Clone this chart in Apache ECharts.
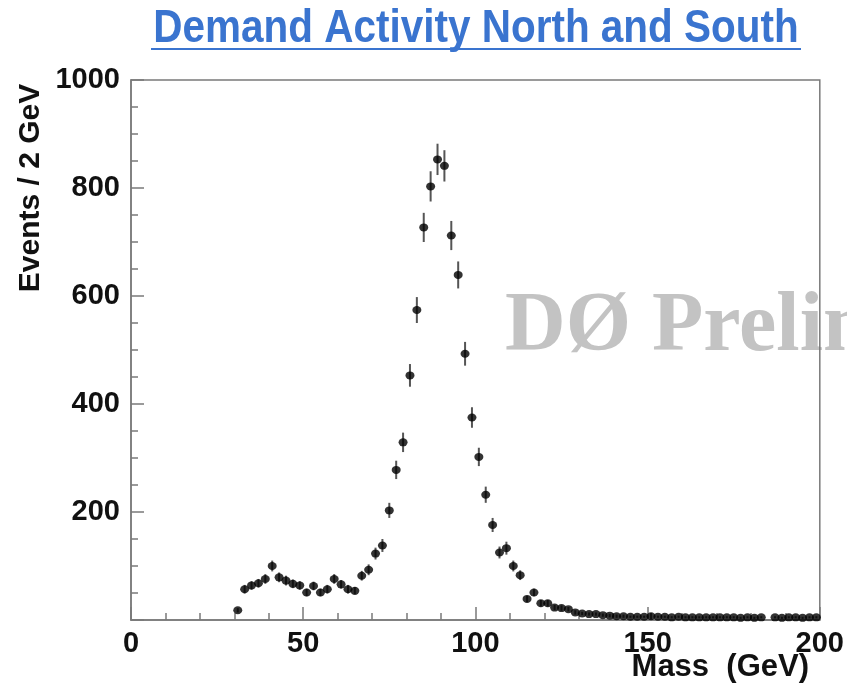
<!DOCTYPE html>
<html>
<head>
<meta charset="utf-8">
<title>Demand Activity North and South</title>
<script src="https://cdn.jsdelivr.net/npm/echarts@6/dist/echarts.min.js"></script>
<style>
  html, body { margin: 0; padding: 0; background: #ffffff; }
  #chart { width: 847px; height: 689px; }
</style>
</head>
<body>
<div id="chart"></div>
<script>
// Bin centres (GeV), 2 GeV wide bins
var massBins = [
  31, 33, 35, 37, 39, 41, 43, 45, 47, 49,
  51, 53, 55, 57, 59, 61, 63, 65, 67, 69,
  71, 73, 75, 77, 79, 81, 83, 85, 87, 89,
  91, 93, 95, 97, 99, 101, 103, 105, 107, 109,
  111, 113, 115, 117, 119, 121, 123, 125, 127, 129,
  131, 133, 135, 137, 139, 141, 143, 145, 147, 149,
  151, 153, 155, 157, 159, 161, 163, 165, 167, 169,
  171, 173, 175, 177, 179, 181, 183, 185, 187, 189,
  191, 193, 195, 197, 199
];

// Events per bin (null = empty bin, not drawn)
var events = [
  18, 57, 64, 68, 76, 100, 79, 73, 67, 64,
  51, 63, 51, 57, 76, 66, 57, 54, 82, 93,
  123, 138, 203, 278, 329, 453, 574, 727, 803, 853,
  841, 712, 639, 493, 375, 302, 232, 176, 125, 133,
  100, 83, 39, 51, 31, 31, 23, 22, 20, 14,
  12, 11, 11, 9, 8, 7, 7, 6, 6, 6,
  7, 6, 6, 5, 6, 5, 5, 5, 5, 5,
  5, 5, 5, 4, 5, 4, 5, null, 5, 4,
  5, 5, 4, 5, 5
];

// Statistical uncertainty on each bin
var errors = [
  4, 8, 8, 8, 9, 10, 9, 9, 8, 8,
  7, 8, 7, 8, 9, 8, 8, 7, 9, 10,
  11, 12, 14, 17, 18, 21, 24, 27, 28, 29,
  29, 27, 25, 22, 19, 17, 15, 13, 11, 12,
  10, 9, 6, 7, 6, 6, 5, 5, 4, 4,
  3, 3, 3, 3, 3, 3, 3, 2, 2, 2,
  6, 2, 2, 2, 2, 2, 2, 2, 2, 2,
  2, 2, 2, 2, 2, 2, 2, null, 2, 2,
  2, 2, 2, 2, 2
];

var xTickLabels = ['0', '50', '100', '150', '200'];
var yTickLabels = ['', '200', '400', '600', '800', '1000'];

var points = [];
var bars = [];
for (var i = 0; i < massBins.length; i++) {
  if (events[i] == null) continue;
  points.push([massBins[i], events[i]]);
  bars.push([massBins[i], events[i] - errors[i], events[i] + errors[i]]);
}

var labelFont = '"Liberation Sans", Arial, Helvetica, sans-serif';
var axisColor = '#7a7a7a';

var chart = echarts.init(document.getElementById('chart'), null, { renderer: 'canvas' });

chart.setOption({
  animation: false,
  backgroundColor: '#ffffff',
  grid: {
    left: 131, right: 27, top: 80, bottom: 69,
    show: true, borderColor: axisColor, borderWidth: 1.5,
    backgroundColor: 'transparent'
  },
  xAxis: {
    type: 'value', min: 0, max: 200, interval: 50,
    axisLine: { show: true, onZero: false, lineStyle: { color: axisColor, width: 1.5 } },
    axisTick: { show: true, inside: true, length: 13, lineStyle: { color: axisColor, width: 1.5 } },
    minorTick: { show: true, splitNumber: 5, length: 7, lineStyle: { color: axisColor, width: 1.5 } },
    splitLine: { show: false },
    axisLabel: {
      margin: 9,
      fontFamily: labelFont, fontWeight: 'bold', fontSize: 29, color: '#111',
      formatter: function (v) { return xTickLabels[Math.round(v / 50)]; }
    }
  },
  yAxis: {
    type: 'value', min: 0, max: 1000, interval: 200,
    axisLine: { show: true, onZero: false, lineStyle: { color: axisColor, width: 1.5 } },
    axisTick: { show: true, inside: true, length: 13, lineStyle: { color: axisColor, width: 1.5 } },
    minorTick: { show: true, splitNumber: 4, length: 7, lineStyle: { color: axisColor, width: 1.5 } },
    splitLine: { show: false },
    axisLabel: {
      margin: 11,
      fontFamily: labelFont, fontWeight: 'bold', fontSize: 29, color: '#111',
      formatter: function (v) { return yTickLabels[Math.round(v / 200)]; }
    }
  },
  graphic: [
    {
      type: 'text', z: -10, silent: true,
      left: 505, top: 286,
      style: {
        text: 'DØ Preliminary',
        font: 'bold 84px "Liberation Serif", "Times New Roman", serif',
        fill: '#c3c3c3'
      }
    },
    {
      // condensed heading, scaled about its own anchor point
      type: 'text',
      x: 476, y: 29, scaleX: 0.88, scaleY: 1, originX: 0, originY: 0,
      style: {
        text: 'Demand Activity North and South',
        font: 'bold 46px ' + labelFont,
        fill: '#3a74cf',
        textAlign: 'center', textVerticalAlign: 'middle'
      }
    },
    {
      type: 'line',
      shape: { x1: 151, y1: 49, x2: 801, y2: 49 },
      style: { stroke: '#3a74cf', lineWidth: 2 }
    },
    {
      type: 'text',
      x: 31, y: 188, rotation: Math.PI / 2,
      style: {
        text: 'Events / 2 GeV',
        font: 'bold 30px ' + labelFont,
        fill: '#111',
        textAlign: 'center', textVerticalAlign: 'middle'
      }
    },
    {
      type: 'text',
      x: 809, y: 667,
      style: {
        text: 'Mass  (GeV)',
        font: 'bold 31px ' + labelFont,
        fill: '#111',
        textAlign: 'right', textVerticalAlign: 'middle'
      }
    }
  ],
  series: [
    {
      type: 'custom',
      name: 'uncertainty',
      data: bars,
      z: 2,
      renderItem: function (params, api) {
        var lo = api.coord([api.value(0), api.value(1)]);
        var hi = api.coord([api.value(0), api.value(2)]);
        return {
          type: 'line',
          shape: { x1: lo[0], y1: lo[1], x2: hi[0], y2: hi[1] },
          style: { stroke: '#555', lineWidth: 2 }
        };
      }
    },
    {
      type: 'scatter',
      name: 'events',
      data: points,
      z: 3,
      symbol: 'circle',
      symbolSize: [9, 8],
      itemStyle: { color: '#000' }
    }
  ]
});
</script>
</body>
</html>
